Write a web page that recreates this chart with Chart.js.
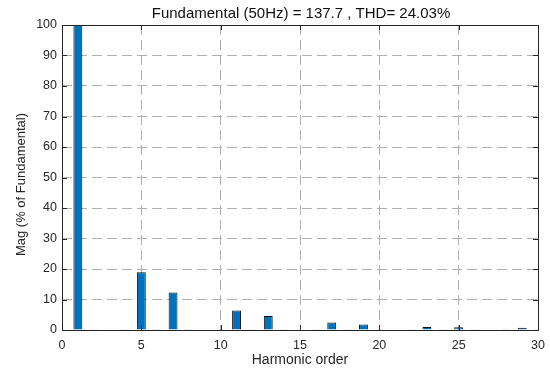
<!DOCTYPE html>
<html>
<head>
<meta charset="utf-8">
<script src="https://cdn.jsdelivr.net/npm/chart.js@4.4.1/dist/chart.umd.min.js"></script>
<style>
  html, body { margin: 0; padding: 0; background: #fff; }
  #wrap { width: 550px; height: 369px; }
</style>
</head>
<body>
<div id="wrap"><canvas id="fft" width="550" height="369"></canvas></div>
<script>
// Harmonic spectrum (% of fundamental)
const harmonicOrders = [0, 1, 2, 3, 4, 5, 6, 7, 8, 9, 10, 11, 12, 13, 14, 15,
    16, 17, 18, 19, 20, 21, 22, 23, 24, 25, 26, 27, 28, 29, 30];
const magnitudes = [0.2, 100, 0.1, 0.2, 0.1, 18.9, 0.1, 12.3, 0.1, 0.2, 0.1, 6.4, 0.1, 4.6, 0.1, 0.2,
    0.1, 2.5, 0.1, 1.8, 0.1, 0.2, 0.1, 1.0, 0.1, 0.9, 0.1, 0.2, 0.1, 0.7, 0.1];
const xTicks = [0, 5, 10, 15, 20, 25, 30];
const yTicks = [0, 10, 20, 30, 40, 50, 60, 70, 80, 90, 100];
const titleText = 'Fundamental (50Hz) = 137.7 , THD= 24.03%';
const yTitle = 'Mag (% of Fundamental)';

const axisColor = '#262626';
const font = "Arial, 'Liberation Sans', Helvetica, sans-serif";

// axes box, inward tick marks, title and y label
const boxPlugin = {
    id: 'matlabBox',
    afterDraw: function(chart) {
        const ctx = chart.ctx;
        const a = chart.chartArea;
        const xs = chart.scales.x, ys = chart.scales.y;
        ctx.save();
        ctx.strokeStyle = axisColor;
        ctx.lineWidth = 1;
        ctx.strokeRect(Math.round(a.left) + 0.5, Math.round(a.top) + 0.5,
            Math.round(a.right - a.left), Math.round(a.bottom - a.top));
        ctx.beginPath();
        xTicks.forEach(function(t) {
            const px = Math.round(xs.getPixelForValue(t)) + 0.5;
            ctx.moveTo(px, a.bottom); ctx.lineTo(px, a.bottom - 5);
            ctx.moveTo(px, a.top); ctx.lineTo(px, a.top + 5);
        });
        yTicks.forEach(function(t) {
            const py = Math.round(ys.getPixelForValue(t)) + 0.5;
            ctx.moveTo(a.left, py); ctx.lineTo(a.left + 5, py);
            ctx.moveTo(a.right, py); ctx.lineTo(a.right - 5, py);
        });
        ctx.stroke();

        ctx.fillStyle = '#111';
        ctx.font = '15px ' + font;
        ctx.textAlign = 'center';
        ctx.textBaseline = 'middle';
        ctx.fillText(titleText, (a.left + a.right) / 2 + 1, 14);

        ctx.fillStyle = axisColor;
        ctx.font = '13px ' + font;
        ctx.translate(21, (a.top + a.bottom) / 2 + 7);
        ctx.rotate(-Math.PI / 2);
        ctx.fillText(yTitle, 0, 0);
        ctx.restore();
    }
};

new Chart(document.getElementById('fft'), {
    type: 'bar',
    data: {
        datasets: [{
            data: harmonicOrders.map(function(h, i) { return { x: h, y: magnitudes[i] }; }),
            backgroundColor: '#0072BD',
            borderColor: '#111',
            borderWidth: 1,
            borderSkipped: 'bottom',
            barPercentage: 0.56,
            categoryPercentage: 1
        }]
    },
    options: {
        responsive: false,
        animation: false,
        layout: { padding: { top: 25, right: 12, left: 0, bottom: 0 } },
        plugins: {
            legend: { display: false },
            tooltip: { enabled: false }
        },
        scales: {
            x: {
                type: 'linear',
                min: 0,
                max: 30,
                offset: false,
                afterFit: function(s) {
                    s.height = 39;
                    s.paddingLeft = 0;
                    s.paddingRight = 0;
                },
                afterBuildTicks: function(s) { s.ticks = xTicks.map(function(v) { return { value: v }; }); },
                grid: {
                    offset: false,
                    color: '#b0b0b0',
                    lineWidth: 1,
                    drawTicks: false
                },
                border: { display: false, dash: [10, 5] },
                ticks: {
                    color: axisColor,
                    padding: 8,
                    maxRotation: 0,
                    font: { family: font, size: 12.5 }
                },
                title: {
                    display: true,
                    text: 'Harmonic order',
                    color: axisColor,
                    padding: { top: 0, bottom: 0 },
                    font: { family: font, size: 14 }
                }
            },
            y: {
                min: 0,
                max: 100,
                afterFit: function(s) { s.width = 62; },
                afterBuildTicks: function(s) { s.ticks = yTicks.map(function(v) { return { value: v }; }); },
                grid: {
                    color: '#b0b0b0',
                    lineWidth: 1,
                    drawTicks: false
                },
                border: { display: false, dash: [10, 5] },
                ticks: {
                    color: axisColor,
                    padding: 5,
                    font: { family: font, size: 12.5 }
                }
            }
        }
    },
    plugins: [boxPlugin]
});
</script>
</body>
</html>
